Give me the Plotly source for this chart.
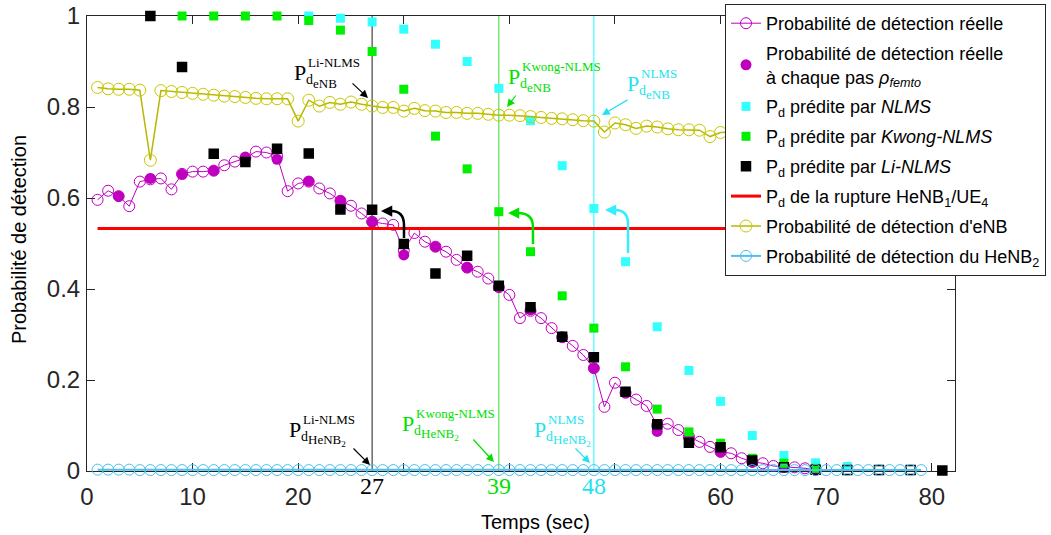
import plotly.graph_objects as go

# ---------------- Données ----------------
# Probabilité de détection réelle (échantillonnée chaque seconde)
t_reel = list(range(1, 70))
p_reel = [0.596, 0.616, 0.604, 0.582, 0.636, 0.641, 0.643, 0.619, 0.653, 0.658,
          0.658, 0.660, 0.672, 0.680, 0.688, 0.702, 0.700, 0.692, 0.615, 0.632,
          0.636, 0.621, 0.610, 0.594, 0.583, 0.566, 0.548, 0.544, 0.541, 0.485,
          0.523, 0.504, 0.493, 0.482, 0.464, 0.447, 0.438, 0.423, 0.404, 0.387,
          0.336, 0.352, 0.336, 0.314, 0.294, 0.275, 0.255, 0.226, 0.141, 0.194,
          0.172, 0.157, 0.143, 0.100, 0.104, 0.090, 0.076, 0.064, 0.053, 0.042,
          0.039, 0.028, 0.020, 0.017, 0.011, 0.009, 0.008, 0.006, 0.002]

# Probabilité réelle à chaque pas rho_femto (toutes les 3 s)
t_pas = list(range(3, 70, 3))
p_pas = [0.604, 0.643, 0.652, 0.660, 0.690, 0.685, 0.637, 0.594, 0.547, 0.475,
         0.493, 0.447, 0.404, 0.354, 0.294, 0.226, 0.172, 0.087, 0.072, 0.042,
         0.020, 0.009, 0.002]

# Pd prédite par NLMS
t_nlms = list(range(21, 73, 3))
p_nlms = [1.000, 0.995, 0.987, 0.971, 0.938, 0.900, 0.841, 0.770, 0.671, 0.577,
          0.460, 0.317, 0.221, 0.153, 0.078, 0.034, 0.018, 0.010]

# Pd prédite par Kwong-NLMS
t_kwong = list(range(9, 70, 3))
p_kwong = [1.000, 1.000, 1.000, 1.000, 0.990, 0.969, 0.922, 0.839, 0.736, 0.664,
           0.570, 0.482, 0.385, 0.314, 0.229, 0.136, 0.086, 0.061, 0.028, 0.017,
           0.006]

# Pd prédite par Li-NLMS
t_li = list(range(6, 82, 3))
p_li = [1.000, 0.888, 0.697, 0.679, 0.708, 0.698, 0.575, 0.574, 0.499, 0.434,
        0.473, 0.407, 0.360, 0.295, 0.250, 0.174, 0.103, 0.062, 0.052, 0.023,
        0.008, 0.003, 0.002, 0.002, 0.002, 0.001]

# Seuil de rupture HeNB1/UE4
t_rupture = [1, 81]
p_rupture = [0.533, 0.533]

# Probabilité de détection de l'eNB
t_enb = list(range(1, 80))
p_enb = [0.843, 0.840, 0.839, 0.839, 0.837, 0.683, 0.836, 0.834, 0.832, 0.830,
         0.828, 0.826, 0.824, 0.823, 0.821, 0.819, 0.818, 0.818, 0.818, 0.769,
         0.815, 0.802, 0.810, 0.806, 0.811, 0.806, 0.802, 0.799, 0.799, 0.791,
         0.797, 0.792, 0.791, 0.788, 0.788, 0.786, 0.786, 0.784, 0.782, 0.782,
         0.781, 0.779, 0.777, 0.775, 0.774, 0.772, 0.770, 0.769, 0.745, 0.765,
         0.761, 0.753, 0.758, 0.756, 0.752, 0.750, 0.750, 0.749, 0.735, 0.744,
         0.745, 0.742, 0.741, 0.738, 0.740, 0.737, 0.736, 0.733, 0.735, 0.732,
         0.731, 0.732, 0.729, 0.728, 0.729, 0.726, 0.725, 0.726, 0.724]

# Probabilité de détection du HeNB2
t_henb2 = list(range(1, 80))
p_henb2 = [0.003, 0.003, 0.003, 0.003, 0.002, 0.002, 0.002, 0.002, 0.002, 0.002,
           0.002, 0.002, 0.002, 0.002, 0.002, 0.002, 0.002, 0.002, 0.002, 0.002,
           0.002, 0.002, 0.002, 0.002, 0.002, 0.002, 0.002, 0.002, 0.002, 0.002,
           0.002, 0.002, 0.002, 0.002, 0.002, 0.002, 0.002, 0.002, 0.002, 0.002,
           0.002, 0.002, 0.002, 0.002, 0.002, 0.002, 0.002, 0.002, 0.002, 0.002,
           0.002, 0.002, 0.002, 0.002, 0.002, 0.002, 0.002, 0.002, 0.002, 0.002,
           0.002, 0.002, 0.002, 0.002, 0.002, 0.002, 0.002, 0.002, 0.002, 0.002,
           0.002, 0.002, 0.002, 0.002, 0.002, 0.002, 0.002, 0.002, 0.002]

# Instants de rupture détectés par chaque prédicteur
instants = [27, 39, 48]
noms_instants = ["27", "39", "48"]

# Graduations
x_ticks = [0, 10, 20, 30, 40, 50, 60, 70, 80]
x_labels = ["0", "10", "20", "", "", "", "60", "70", "80"]
y_ticks = [0, 0.2, 0.4, 0.6, 0.8, 1]
y_labels = ["0", "0.2", "0.4", "0.6", "0.8", "1"]

# ---------------- Styles ----------------
SANS = "Liberation Sans, Arial, sans-serif"
SERIF = "Liberation Serif, Times New Roman, serif"
AXE = "#262626"
MAG = "#bf00bf"
CYAN = "#33ffff"
CYAN_TXT = "#1fe3ee"
VERT = "#00f000"
VERT_TXT = "#00e000"
JAUNE = "#c8c800"
BLEU = "#4dbeee"
ROUGE = "#ff0000"

W, H = 1051, 535
ML, MR, MT, MB = 87, 96, 16, 64
X_MAX = 82.2
PW, PH = W - ML - MR, H - MT - MB


def papier_x(px):
    return (px - ML) / PW


def papier_y(py):
    return (H - MB - py) / PH


fig = go.Figure()

fig.add_trace(go.Scatter(
    x=t_reel, y=p_reel, mode="lines+markers", name="Probabilité de détection réelle",
    line=dict(color=MAG, width=1),
    marker=dict(symbol="circle-open", size=11, color=MAG, line=dict(width=1)),
    legendgroup="a", cliponaxis=False))

fig.add_trace(go.Scatter(
    x=t_pas, y=p_pas, mode="markers",
    name="Probabilité de détection réelle<br>à chaque pas <i>ρ<sub>femto</sub></i>",
    marker=dict(symbol="circle", size=11, color=MAG),
    legendgroup="b", cliponaxis=False))

fig.add_trace(go.Scatter(
    x=t_nlms, y=p_nlms, mode="markers", name="P<sub>d</sub> prédite par <i>NLMS</i>",
    marker=dict(symbol="square", size=9, color=CYAN),
    legendgroup="c", cliponaxis=False))

fig.add_trace(go.Scatter(
    x=t_kwong, y=p_kwong, mode="markers", name="P<sub>d</sub> prédite par <i>Kwong-NLMS</i>",
    marker=dict(symbol="square", size=9, color=VERT),
    legendgroup="d", cliponaxis=False))

li_symboles = ["square-open" if (v < 0.01 and t < 80) else "square" for t, v in zip(t_li, p_li)]
fig.add_trace(go.Scatter(
    x=t_li, y=p_li, mode="markers", name="P<sub>d</sub> prédite par <i>Li-NLMS</i>",
    marker=dict(symbol=li_symboles, size=9, color="black", line=dict(width=1.5, color="black")),
    legendgroup="e", cliponaxis=False))

fig.add_trace(go.Scatter(
    x=t_rupture, y=p_rupture, mode="lines",
    name="P<sub>d</sub> de la rupture HeNB<sub>1</sub>/UE<sub>4</sub>",
    line=dict(color=ROUGE, width=3),
    legendgroup="f"))

fig.add_trace(go.Scatter(
    x=t_enb, y=p_enb, mode="lines+markers", name="Probabilité de détection d'eNB",
    line=dict(color="#b8b800", width=1.5),
    marker=dict(symbol="circle-open", size=12, color=JAUNE, line=dict(width=1)),
    legendgroup="g", cliponaxis=False))

fig.add_trace(go.Scatter(
    x=t_henb2, y=p_henb2, mode="lines+markers", name="Probabilité de détection du HeNB<sub>2</sub>",
    line=dict(color=BLEU, width=2),
    marker=dict(symbol="circle-open", size=11, color=BLEU, line=dict(width=1)),
    legendgroup="h", cliponaxis=False))

# Lignes verticales aux instants de rupture
couleurs_instants = ["#202020", "#33dd33", "#66ffff"]
largeurs_instants = [1, 1, 1.5]
for t, c, w in zip(instants, couleurs_instants, largeurs_instants):
    fig.add_shape(type="line", xref="x", yref="y", x0=t, x1=t, y0=0, y1=1,
                  line=dict(color=c, width=w), layer="below")

# Valeurs des instants sous l'axe des abscisses
couleurs_txt = ["black", VERT_TXT, CYAN_TXT]
for t, lab, c in zip(instants, noms_instants, couleurs_txt):
    fig.add_annotation(x=t, y=papier_y(486), xref="x", yref="paper", text=lab, showarrow=False,
                       xanchor="center", yanchor="middle",
                       font=dict(family=SERIF, size=24, color=c))


# Étiquettes P_d^{...}_{...}
def etiquette(gauche, base, exposant, indice, couleur):
    def morceau(texte, x_px, base_px, taille):
        fig.add_annotation(x=papier_x(x_px), y=papier_y(base_px - 0.34 * taille),
                           xref="paper", yref="paper",
                           text=texte, showarrow=False, xanchor="left", yanchor="middle",
                           borderpad=0, font=dict(family=SERIF, size=taille, color=couleur))
    morceau("P", gauche, base, 22)
    morceau("d", gauche + 12, base + 4, 14)
    morceau(indice, gauche + 19, base + 8, 13)
    morceau(exposant, gauche + 14, base - 13, 13)


etiquette(293, 80, "Li-NLMS", "eNB", "black")
etiquette(507, 84, "Kwong-NLMS", "eNB", VERT_TXT)
etiquette(626, 91, "NLMS", "eNB", CYAN_TXT)
etiquette(288, 437, "Li-NLMS", "HeNB<sub>2</sub>", "black")
etiquette(401, 431, "Kwong-NLMS", "HeNB<sub>2</sub>", VERT_TXT)
etiquette(533, 437, "NLMS", "HeNB<sub>2</sub>", CYAN_TXT)


# Flèches droites (pointe en pixels, queue en décalage pixel)
def fleche(px, py, ax, ay, couleur):
    fig.add_annotation(x=papier_x(px), y=papier_y(py), xref="paper", yref="paper", text="",
                       showarrow=True, ax=ax, ay=ay, arrowhead=2, arrowsize=1.3,
                       arrowwidth=1.2, arrowcolor=couleur, standoff=0)


fleche(368, 98, -17, -16, "black")
fleche(507, 107, 10, -13, VERT_TXT)
fleche(602, 115, 27, -16, CYAN_TXT)
fleche(370, 465, -18, -18, "black")
fleche(494, 462, -22, -24, VERT_TXT)
fleche(590, 463, -16, -16, CYAN_TXT)


# Flèches courbes vers les prédictions au franchissement du seuil
def fleche_courbe(x_bas, y_bas, y_haut, x_pointe, couleur):
    chemin = "M {:.4f},{:.4f} L {:.4f},{:.4f} Q {:.4f},{:.4f} {:.4f},{:.4f}".format(
        papier_x(x_bas), papier_y(y_bas), papier_x(x_bas), papier_y(y_haut + 14),
        papier_x(x_bas), papier_y(y_haut), papier_x(x_pointe + 10), papier_y(y_haut))
    fig.add_shape(type="path", xref="paper", yref="paper", path=chemin,
                  line=dict(color=couleur, width=2.5))
    fig.add_annotation(x=papier_x(x_pointe), y=papier_y(y_haut), xref="paper", yref="paper",
                       text="", showarrow=True, ax=12, ay=0, arrowhead=2, arrowsize=0.9,
                       arrowwidth=2.5, arrowcolor=couleur, standoff=0)


fleche_courbe(404, 238, 211, 381, "black")
fleche_courbe(533, 244, 213, 508, VERT_TXT)
fleche_courbe(628, 253, 210, 605, "#33eeff")

# Titres des axes
fig.add_annotation(x=papier_x(535), y=papier_y(522), xref="paper", yref="paper",
                   text="Temps (sec)", showarrow=False, xanchor="center", yanchor="middle",
                   font=dict(family=SANS, size=20, color="black"))
fig.add_annotation(x=papier_x(19), y=papier_y(240), xref="paper", yref="paper",
                   text="Probabilité de détection", showarrow=False,
                   xanchor="center", yanchor="middle", textangle=-90,
                   font=dict(family=SANS, size=20, color="black"))

axe_commun = dict(showline=True, linecolor=AXE, linewidth=1, mirror="ticks",
                  ticks="inside", ticklen=8, tickcolor=AXE, tickwidth=1,
                  showgrid=False, zeroline=False, layer="below traces",
                  tickfont=dict(family=SANS, size=24, color=AXE))

fig.update_layout(
    width=W, height=H,
    margin=dict(l=ML, r=MR, t=MT, b=MB, autoexpand=False),
    paper_bgcolor="white", plot_bgcolor="white",
    xaxis=dict(range=[0, X_MAX], tickmode="array", tickvals=x_ticks, ticktext=x_labels,
               ticklabelstandoff=4, **axe_commun),
    yaxis=dict(range=[0, 1], tickmode="array", tickvals=y_ticks, ticktext=y_labels,
               ticklabelstandoff=1, **axe_commun),
    showlegend=True,
    legend=dict(x=papier_x(725), y=papier_y(4), xanchor="left", yanchor="top",
                bgcolor="white", bordercolor=AXE, borderwidth=1, tracegroupgap=3.5,
                maxheight=400,
                font=dict(family=SANS, size=18, color="black")),
)

fig.write_html("out.html")
